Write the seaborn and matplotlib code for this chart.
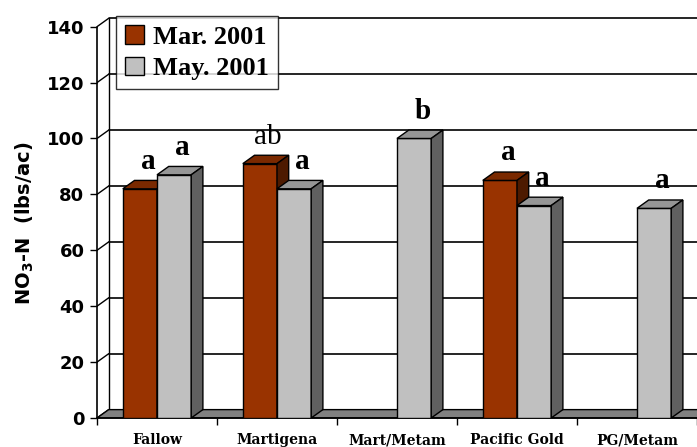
import numpy as np
import pandas as pd
import seaborn as sns
import matplotlib.pyplot as plt
from matplotlib.patches import Polygon

# valores
categories = ['Fallow', 'Martigena', 'Mart/Metam', 'Pacific Gold', 'PG/Metam']
dates = ['Mar. 2001', 'May. 2001']
mar_2001 = [82, 91, np.nan, 85, np.nan]
may_2001 = [87, 82, 100, 76, 75]
letters_mar = ['a', 'ab', '', 'a', '']
letters_may = ['a', 'a', 'b', 'a', 'a']
y_ticks = [0, 20, 40, 60, 80, 100, 120, 140]

face_colors = ['#993300', '#C0C0C0']
top_colors = ['#7a2900', '#969696']
side_colors = ['#4d1a00', '#606060']

df = pd.DataFrame({
    'treatment': categories * 2,
    'date': [dates[0]] * len(categories) + [dates[1]] * len(categories),
    'no3': mar_2001 + may_2001,
}).dropna()

sns.set_style('white')
plt.rcParams['text.color'] = 'black'
plt.rcParams['axes.labelcolor'] = 'black'
plt.rcParams['xtick.color'] = 'black'
plt.rcParams['ytick.color'] = 'black'
plt.rcParams['mathtext.fontset'] = 'custom'
plt.rcParams['mathtext.bf'] = 'DejaVu Sans:bold'
plt.rcParams['mathtext.rm'] = 'DejaVu Sans:bold'

fig = plt.figure(figsize=(6.97, 4.47), dpi=100)
ax = fig.add_axes([97 / 697, 29 / 447, 600 / 697, 399.7 / 447])

# deslocamento da profundidade (efeito 3D)
dx, dy = 0.0975, 3.0

sns.barplot(data=df, x='treatment', y='no3', hue='date', order=categories,
            hue_order=dates, palette=face_colors, saturation=1, width=0.57,
            edgecolor='black', linewidth=1, ax=ax)

handles, labels = ax.get_legend_handles_labels()
if ax.get_legend() is not None:
    ax.get_legend().remove()

letters = [letters_mar, letters_may]
for i, cont in enumerate(ax.containers):
    for bar in cont:
        h = bar.get_height()
        if np.isnan(h):
            continue
        x, w = bar.get_x(), bar.get_width()
        z = 3 + 2 * i
        bar.set_zorder(z)
        top = Polygon([(x, h), (x + w, h), (x + w + dx, h + dy), (x + dx, h + dy)],
                      closed=True, fc=top_colors[i], ec='black', lw=1, zorder=z + 0.5)
        side = Polygon([(x + w, 0), (x + w + dx, dy), (x + w + dx, h + dy), (x + w, h)],
                       closed=True, fc=side_colors[i], ec='black', lw=1, zorder=z + 0.5)
        ax.add_patch(top)
        ax.add_patch(side)
        idx = int(round(x + w / 2))
        txt = letters[i][idx]
        if txt:
            weight = 'normal' if txt == 'ab' else 'bold'
            ax.text(x + w / 2 + dx * 0.7, h + dy + 2.0, txt, ha='center', va='bottom',
                    family='Liberation Serif', weight=weight, fontsize=21,
                    color='black', zorder=10)

# parede do fundo, parede lateral e piso
for v in y_ticks[1:]:
    ax.plot([-0.5 + dx, 4.5 + dx], [v + dy, v + dy], color='black', lw=1.2, zorder=1, clip_on=False)
for v in y_ticks:
    ax.plot([-0.5, -0.5 + dx], [v, v + dy], color='black', lw=1, zorder=1)
ax.plot([-0.5 + dx, -0.5 + dx], [dy, 140 + dy], color='black', lw=1, zorder=1)
floor = Polygon([(-0.5, 0), (4.5, 0), (4.5 + dx, dy), (-0.5 + dx, dy)], closed=True,
                fc='#808080', ec='black', lw=1, zorder=2, clip_on=False)
ax.add_patch(floor)

ax.set_xlim(-0.5, 4.5)
ax.set_ylim(0, 143)
for s in ['top', 'right']:
    ax.spines[s].set_visible(False)
ax.spines['left'].set_bounds(0, 140)
ax.spines['left'].set_color('black')
ax.spines['bottom'].set_color('black')
ax.spines['left'].set_linewidth(1.2)
ax.spines['bottom'].set_linewidth(1.2)

ax.set_yticks(y_ticks)
ax.set_yticklabels([str(v) for v in y_ticks], family='DejaVu Sans', weight='bold', fontsize=13)
ax.tick_params(axis='y', left=True, length=5, width=1, direction='out', pad=4, colors='black')

ax.set_xticks(range(len(categories)))
ax.set_xticklabels(categories, family='DejaVu Serif', weight='bold', fontsize=10)
ax.set_xticks(np.arange(-0.5, 5, 1), minor=True)
ax.tick_params(axis='x', which='major', bottom=True, length=0, pad=11, colors='black')
ax.tick_params(axis='x', which='minor', bottom=True, length=5, width=1, color='black')

ax.set_xlabel('')
ax.set_ylabel(r'NO$_\mathbf{3}$-N  (lbs/ac)', family='DejaVu Sans', weight='bold',
              fontsize=14, color='black')
ax.yaxis.set_label_coords(-0.102, 0.488)

leg = ax.legend(handles, labels, loc='upper left', bbox_to_anchor=(0.032, 1.006),
                borderaxespad=0, frameon=True, fancybox=False, handlelength=0.7,
                handleheight=0.7, handletextpad=0.35, labelspacing=0.3,
                borderpad=0.35,
                prop={'family': 'Liberation Serif', 'weight': 'bold', 'size': 19})
leg.get_frame().set_edgecolor('black')
leg.get_frame().set_linewidth(1)
for t in leg.get_texts():
    t.set_color('black')
leg.set_zorder(20)

fig.savefig('out.png', dpi=100)
